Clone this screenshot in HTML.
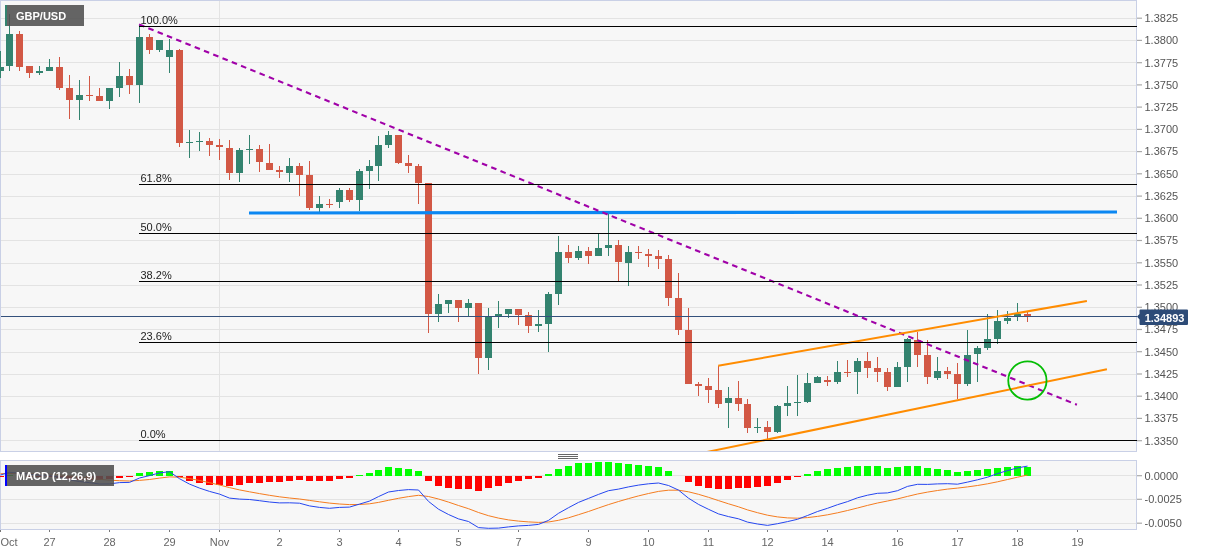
<!DOCTYPE html>
<html><head><meta charset="utf-8"><title>GBP/USD</title>
<style>html,body{margin:0;padding:0;background:#fff;}body{width:1207px;height:555px;overflow:hidden;font-family:"Liberation Sans",sans-serif;}svg{display:block;will-change:transform;opacity:0.999}</style>
</head><body>
<svg width="1207" height="555" viewBox="0 0 1207 555" font-family="'Liberation Sans', sans-serif">
<rect width="1207" height="555" fill="#fff"/>
<rect x="0.5" y="0.5" width="1136" height="451" fill="#f7f7f7" stroke="#c9d0e6"/>
<rect x="0.5" y="460.5" width="1136" height="69" fill="#f7f7f7" stroke="#c9d0e6"/>
<defs><clipPath id="cm"><rect x="0" y="1" width="1137" height="450"/></clipPath><clipPath id="cd"><rect x="0" y="461" width="1136" height="68"/></clipPath></defs>
<g shape-rendering="crispEdges" stroke="#e3e3e3" stroke-width="1">
<line x1="1" x2="1136" y1="18.5" y2="18.5"/>
<line x1="1" x2="1136" y1="40.5" y2="40.5"/>
<line x1="1" x2="1136" y1="62.5" y2="62.5"/>
<line x1="1" x2="1136" y1="85.5" y2="85.5"/>
<line x1="1" x2="1136" y1="107.5" y2="107.5"/>
<line x1="1" x2="1136" y1="129.5" y2="129.5"/>
<line x1="1" x2="1136" y1="151.5" y2="151.5"/>
<line x1="1" x2="1136" y1="174.5" y2="174.5"/>
<line x1="1" x2="1136" y1="196.5" y2="196.5"/>
<line x1="1" x2="1136" y1="218.5" y2="218.5"/>
<line x1="1" x2="1136" y1="240.5" y2="240.5"/>
<line x1="1" x2="1136" y1="263.5" y2="263.5"/>
<line x1="1" x2="1136" y1="285.5" y2="285.5"/>
<line x1="1" x2="1136" y1="307.5" y2="307.5"/>
<line x1="1" x2="1136" y1="329.5" y2="329.5"/>
<line x1="1" x2="1136" y1="352.5" y2="352.5"/>
<line x1="1" x2="1136" y1="374.5" y2="374.5"/>
<line x1="1" x2="1136" y1="396.5" y2="396.5"/>
<line x1="1" x2="1136" y1="418.5" y2="418.5"/>
<line x1="1" x2="1136" y1="440.5" y2="440.5"/>
<line x1="219.5" x2="219.5" y1="1" y2="451"/>
<line x1="1" x2="1136" y1="475.5" y2="475.5"/>
<line x1="1" x2="1136" y1="499.5" y2="499.5"/>
<line x1="1" x2="1136" y1="523.5" y2="523.5"/>
<line x1="219.5" x2="219.5" y1="461" y2="529"/>
</g>
<g stroke="#aaa" stroke-width="1.2">
<line x1="1137" x2="1142" y1="18.2" y2="18.2"/>
<line x1="1137" x2="1142" y1="40.4" y2="40.4"/>
<line x1="1137" x2="1142" y1="62.7" y2="62.7"/>
<line x1="1137" x2="1142" y1="84.9" y2="84.9"/>
<line x1="1137" x2="1142" y1="107.1" y2="107.1"/>
<line x1="1137" x2="1142" y1="129.4" y2="129.4"/>
<line x1="1137" x2="1142" y1="151.6" y2="151.6"/>
<line x1="1137" x2="1142" y1="173.8" y2="173.8"/>
<line x1="1137" x2="1142" y1="196.1" y2="196.1"/>
<line x1="1137" x2="1142" y1="218.3" y2="218.3"/>
<line x1="1137" x2="1142" y1="240.5" y2="240.5"/>
<line x1="1137" x2="1142" y1="262.8" y2="262.8"/>
<line x1="1137" x2="1142" y1="285.0" y2="285.0"/>
<line x1="1137" x2="1142" y1="307.3" y2="307.3"/>
<line x1="1137" x2="1142" y1="329.5" y2="329.5"/>
<line x1="1137" x2="1142" y1="351.7" y2="351.7"/>
<line x1="1137" x2="1142" y1="374.0" y2="374.0"/>
<line x1="1137" x2="1142" y1="396.2" y2="396.2"/>
<line x1="1137" x2="1142" y1="418.4" y2="418.4"/>
<line x1="1137" x2="1142" y1="440.7" y2="440.7"/>
<line x1="1137" x2="1142" y1="475.7" y2="475.7"/>
<line x1="1137" x2="1142" y1="499.3" y2="499.3"/>
<line x1="1137" x2="1142" y1="523.2" y2="523.2"/>
</g>
<g font-size="11" fill="#555">
<text x="1144.5" y="22.0">1.3825</text>
<text x="1144.5" y="44.2">1.3800</text>
<text x="1144.5" y="66.5">1.3775</text>
<text x="1144.5" y="88.7">1.3750</text>
<text x="1144.5" y="110.9">1.3725</text>
<text x="1144.5" y="133.2">1.3700</text>
<text x="1144.5" y="155.4">1.3675</text>
<text x="1144.5" y="177.6">1.3650</text>
<text x="1144.5" y="199.9">1.3625</text>
<text x="1144.5" y="222.1">1.3600</text>
<text x="1144.5" y="244.3">1.3575</text>
<text x="1144.5" y="266.6">1.3550</text>
<text x="1144.5" y="288.8">1.3525</text>
<text x="1144.5" y="311.1">1.3500</text>
<text x="1144.5" y="333.3">1.3475</text>
<text x="1144.5" y="355.5">1.3450</text>
<text x="1144.5" y="377.8">1.3425</text>
<text x="1144.5" y="400.0">1.3400</text>
<text x="1144.5" y="422.2">1.3375</text>
<text x="1144.5" y="444.5">1.3350</text>
<text x="1144.5" y="479.6">0.0000</text>
<text x="1144.5" y="503.2">-0.0025</text>
<text x="1144.5" y="527.1">-0.0050</text>
</g>
<g stroke="#777" stroke-width="1" shape-rendering="crispEdges">
<line x1="0.5" x2="0.5" y1="530" y2="532"/>
<line x1="49.5" x2="49.5" y1="530" y2="532"/>
<line x1="109.5" x2="109.5" y1="530" y2="532"/>
<line x1="169.5" x2="169.5" y1="530" y2="532"/>
<line x1="219.5" x2="219.5" y1="530" y2="532"/>
<line x1="279.5" x2="279.5" y1="530" y2="532"/>
<line x1="339.5" x2="339.5" y1="530" y2="532"/>
<line x1="398.5" x2="398.5" y1="530" y2="532"/>
<line x1="458.5" x2="458.5" y1="530" y2="532"/>
<line x1="518.5" x2="518.5" y1="530" y2="532"/>
<line x1="588.5" x2="588.5" y1="530" y2="532"/>
<line x1="648.5" x2="648.5" y1="530" y2="532"/>
<line x1="708.5" x2="708.5" y1="530" y2="532"/>
<line x1="767.5" x2="767.5" y1="530" y2="532"/>
<line x1="827.5" x2="827.5" y1="530" y2="532"/>
<line x1="897.5" x2="897.5" y1="530" y2="532"/>
<line x1="957.5" x2="957.5" y1="530" y2="532"/>
<line x1="1017.5" x2="1017.5" y1="530" y2="532"/>
<line x1="1077.5" x2="1077.5" y1="530" y2="532"/>
</g>
<g font-size="11" fill="#666" text-anchor="middle">
<text x="0.5" y="546" text-anchor="start">Oct</text>
<text x="49.5" y="546">27</text>
<text x="109.5" y="546">28</text>
<text x="169.5" y="546">29</text>
<text x="219.5" y="546">Nov</text>
<text x="279.5" y="546">2</text>
<text x="339.5" y="546">3</text>
<text x="398.5" y="546">4</text>
<text x="458.5" y="546">5</text>
<text x="518.5" y="546">7</text>
<text x="588.5" y="546">9</text>
<text x="648.5" y="546">10</text>
<text x="708.5" y="546">11</text>
<text x="767.5" y="546">12</text>
<text x="827.5" y="546">14</text>
<text x="897.5" y="546">16</text>
<text x="957.5" y="546">17</text>
<text x="1017.5" y="546">18</text>
<text x="1077.5" y="546">19</text>
</g>
<g stroke="#666" stroke-width="1" shape-rendering="crispEdges"><line x1="558" x2="578" y1="454.5" y2="454.5"/><line x1="558" x2="578" y1="456.5" y2="456.5"/><line x1="558" x2="578" y1="458.5" y2="458.5"/></g>
<g clip-path="url(#cm)">
<g shape-rendering="crispEdges">
<rect x="0" y="51" width="1" height="27" fill="#33836f"/>
<rect x="-3" y="67" width="7" height="4" fill="#33836f"/>
<rect x="9" y="14" width="1" height="57" fill="#33836f"/>
<rect x="6" y="34" width="7" height="32" fill="#33836f"/>
<rect x="19" y="31" width="1" height="40" fill="#d25845"/>
<rect x="16" y="34" width="7" height="33" fill="#d25845"/>
<rect x="29" y="66" width="1" height="12" fill="#d25845"/>
<rect x="26" y="66" width="7" height="7" fill="#d25845"/>
<rect x="39" y="66" width="1" height="9" fill="#33836f"/>
<rect x="36" y="71" width="7" height="2" fill="#33836f"/>
<rect x="49" y="59" width="1" height="12" fill="#33836f"/>
<rect x="46" y="67" width="7" height="4" fill="#33836f"/>
<rect x="59" y="57" width="1" height="33" fill="#d25845"/>
<rect x="56" y="67" width="7" height="21" fill="#d25845"/>
<rect x="69" y="75" width="1" height="44" fill="#d25845"/>
<rect x="66" y="88" width="7" height="12" fill="#d25845"/>
<rect x="79" y="80" width="1" height="40" fill="#33836f"/>
<rect x="76" y="95" width="7" height="5" fill="#33836f"/>
<rect x="89" y="76" width="1" height="25" fill="#d25845"/>
<rect x="86" y="95" width="7" height="1" fill="#d25845"/>
<rect x="99" y="88" width="1" height="13" fill="#d25845"/>
<rect x="96" y="96" width="7" height="5" fill="#d25845"/>
<rect x="109" y="88" width="1" height="21" fill="#33836f"/>
<rect x="106" y="88" width="7" height="13" fill="#33836f"/>
<rect x="119" y="62" width="1" height="35" fill="#33836f"/>
<rect x="116" y="76" width="7" height="12" fill="#33836f"/>
<rect x="129" y="69" width="1" height="25" fill="#d25845"/>
<rect x="126" y="76" width="7" height="9" fill="#d25845"/>
<rect x="139" y="25" width="1" height="78" fill="#33836f"/>
<rect x="136" y="37" width="7" height="48" fill="#33836f"/>
<rect x="149" y="34" width="1" height="20" fill="#d25845"/>
<rect x="146" y="37" width="7" height="13" fill="#d25845"/>
<rect x="159" y="40" width="1" height="12" fill="#33836f"/>
<rect x="156" y="40" width="7" height="10" fill="#33836f"/>
<rect x="169" y="39" width="1" height="34" fill="#33836f"/>
<rect x="166" y="50" width="7" height="7" fill="#33836f"/>
<rect x="179" y="49" width="1" height="98" fill="#d25845"/>
<rect x="176" y="50" width="7" height="93" fill="#d25845"/>
<rect x="189" y="130" width="1" height="28" fill="#33836f"/>
<rect x="186" y="142" width="7" height="1" fill="#33836f"/>
<rect x="199" y="132" width="1" height="19" fill="#33836f"/>
<rect x="196" y="141" width="7" height="1" fill="#33836f"/>
<rect x="209" y="138" width="1" height="18" fill="#d25845"/>
<rect x="206" y="141" width="7" height="4" fill="#d25845"/>
<rect x="219" y="139" width="1" height="21" fill="#d25845"/>
<rect x="216" y="145" width="7" height="2" fill="#d25845"/>
<rect x="229" y="140" width="1" height="40" fill="#d25845"/>
<rect x="226" y="148" width="7" height="25" fill="#d25845"/>
<rect x="239" y="148" width="1" height="34" fill="#33836f"/>
<rect x="236" y="150" width="7" height="23" fill="#33836f"/>
<rect x="249" y="135" width="1" height="29" fill="#33836f"/>
<rect x="246" y="149" width="7" height="1" fill="#33836f"/>
<rect x="259" y="145" width="1" height="27" fill="#d25845"/>
<rect x="256" y="149" width="7" height="13" fill="#d25845"/>
<rect x="269" y="144" width="1" height="26" fill="#d25845"/>
<rect x="266" y="163" width="7" height="7" fill="#d25845"/>
<rect x="279" y="166" width="1" height="12" fill="#d25845"/>
<rect x="276" y="170" width="7" height="2" fill="#d25845"/>
<rect x="289" y="158" width="1" height="24" fill="#33836f"/>
<rect x="286" y="166" width="7" height="7" fill="#33836f"/>
<rect x="299" y="163" width="1" height="33" fill="#d25845"/>
<rect x="296" y="166" width="7" height="9" fill="#d25845"/>
<rect x="309" y="161" width="1" height="49" fill="#d25845"/>
<rect x="306" y="175" width="7" height="33" fill="#d25845"/>
<rect x="319" y="196" width="1" height="16" fill="#33836f"/>
<rect x="316" y="204" width="7" height="4" fill="#33836f"/>
<rect x="329" y="199" width="1" height="9" fill="#d25845"/>
<rect x="326" y="204" width="7" height="1" fill="#d25845"/>
<rect x="339" y="188" width="1" height="20" fill="#33836f"/>
<rect x="336" y="190" width="7" height="12" fill="#33836f"/>
<rect x="349" y="188" width="1" height="14" fill="#d25845"/>
<rect x="346" y="190" width="7" height="10" fill="#d25845"/>
<rect x="359" y="169" width="1" height="42" fill="#33836f"/>
<rect x="356" y="171" width="7" height="29" fill="#33836f"/>
<rect x="369" y="160" width="1" height="29" fill="#33836f"/>
<rect x="366" y="166" width="7" height="5" fill="#33836f"/>
<rect x="378" y="136" width="1" height="45" fill="#33836f"/>
<rect x="375" y="145" width="7" height="21" fill="#33836f"/>
<rect x="388" y="131" width="1" height="17" fill="#33836f"/>
<rect x="385" y="135" width="7" height="10" fill="#33836f"/>
<rect x="398" y="135" width="1" height="29" fill="#d25845"/>
<rect x="395" y="135" width="7" height="28" fill="#d25845"/>
<rect x="408" y="155" width="1" height="18" fill="#d25845"/>
<rect x="405" y="163" width="7" height="3" fill="#d25845"/>
<rect x="418" y="164" width="1" height="40" fill="#d25845"/>
<rect x="415" y="166" width="7" height="17" fill="#d25845"/>
<rect x="428" y="183" width="1" height="150" fill="#d25845"/>
<rect x="425" y="183" width="7" height="131" fill="#d25845"/>
<rect x="438" y="294" width="1" height="28" fill="#33836f"/>
<rect x="435" y="304" width="7" height="10" fill="#33836f"/>
<rect x="448" y="300" width="1" height="13" fill="#33836f"/>
<rect x="445" y="300" width="7" height="4" fill="#33836f"/>
<rect x="458" y="300" width="1" height="22" fill="#d25845"/>
<rect x="455" y="300" width="7" height="8" fill="#d25845"/>
<rect x="468" y="299" width="1" height="17" fill="#33836f"/>
<rect x="465" y="303" width="7" height="5" fill="#33836f"/>
<rect x="478" y="303" width="1" height="71" fill="#d25845"/>
<rect x="475" y="303" width="7" height="55" fill="#d25845"/>
<rect x="488" y="308" width="1" height="62" fill="#33836f"/>
<rect x="485" y="316" width="7" height="42" fill="#33836f"/>
<rect x="498" y="301" width="1" height="27" fill="#33836f"/>
<rect x="495" y="314" width="7" height="2" fill="#33836f"/>
<rect x="508" y="309" width="1" height="9" fill="#33836f"/>
<rect x="505" y="309" width="7" height="5" fill="#33836f"/>
<rect x="518" y="309" width="1" height="16" fill="#d25845"/>
<rect x="515" y="309" width="7" height="6" fill="#d25845"/>
<rect x="528" y="312" width="1" height="21" fill="#d25845"/>
<rect x="525" y="315" width="7" height="11" fill="#d25845"/>
<rect x="538" y="310" width="1" height="22" fill="#33836f"/>
<rect x="535" y="324" width="7" height="2" fill="#33836f"/>
<rect x="548" y="292" width="1" height="60" fill="#33836f"/>
<rect x="545" y="294" width="7" height="30" fill="#33836f"/>
<rect x="558" y="236" width="1" height="69" fill="#33836f"/>
<rect x="555" y="252" width="7" height="42" fill="#33836f"/>
<rect x="568" y="245" width="1" height="18" fill="#d25845"/>
<rect x="565" y="252" width="7" height="6" fill="#d25845"/>
<rect x="578" y="246" width="1" height="14" fill="#33836f"/>
<rect x="575" y="251" width="7" height="7" fill="#33836f"/>
<rect x="588" y="247" width="1" height="17" fill="#d25845"/>
<rect x="585" y="251" width="7" height="5" fill="#d25845"/>
<rect x="598" y="234" width="1" height="22" fill="#33836f"/>
<rect x="595" y="248" width="7" height="8" fill="#33836f"/>
<rect x="608" y="214" width="1" height="42" fill="#33836f"/>
<rect x="605" y="245" width="7" height="3" fill="#33836f"/>
<rect x="618" y="240" width="1" height="41" fill="#d25845"/>
<rect x="615" y="245" width="7" height="17" fill="#d25845"/>
<rect x="628" y="246" width="1" height="40" fill="#33836f"/>
<rect x="625" y="252" width="7" height="11" fill="#33836f"/>
<rect x="638" y="246" width="1" height="13" fill="#d25845"/>
<rect x="635" y="252" width="7" height="1" fill="#d25845"/>
<rect x="648" y="249" width="1" height="18" fill="#d25845"/>
<rect x="645" y="254" width="7" height="2" fill="#d25845"/>
<rect x="658" y="250" width="1" height="19" fill="#d25845"/>
<rect x="655" y="256" width="7" height="3" fill="#d25845"/>
<rect x="668" y="255" width="1" height="51" fill="#d25845"/>
<rect x="665" y="259" width="7" height="39" fill="#d25845"/>
<rect x="678" y="273" width="1" height="62" fill="#d25845"/>
<rect x="675" y="298" width="7" height="32" fill="#d25845"/>
<rect x="688" y="308" width="1" height="76" fill="#d25845"/>
<rect x="685" y="330" width="7" height="54" fill="#d25845"/>
<rect x="698" y="382" width="1" height="14" fill="#d25845"/>
<rect x="695" y="384" width="7" height="2" fill="#d25845"/>
<rect x="708" y="378" width="1" height="25" fill="#d25845"/>
<rect x="705" y="386" width="7" height="4" fill="#d25845"/>
<rect x="718" y="366" width="1" height="42" fill="#d25845"/>
<rect x="715" y="390" width="7" height="14" fill="#d25845"/>
<rect x="728" y="387" width="1" height="41" fill="#33836f"/>
<rect x="725" y="398" width="7" height="5" fill="#33836f"/>
<rect x="738" y="381" width="1" height="30" fill="#d25845"/>
<rect x="735" y="398" width="7" height="6" fill="#d25845"/>
<rect x="747" y="399" width="1" height="34" fill="#d25845"/>
<rect x="744" y="404" width="7" height="24" fill="#d25845"/>
<rect x="757" y="418" width="1" height="15" fill="#33836f"/>
<rect x="754" y="427" width="7" height="1" fill="#33836f"/>
<rect x="767" y="421" width="1" height="18" fill="#d25845"/>
<rect x="764" y="427" width="7" height="5" fill="#d25845"/>
<rect x="777" y="405" width="1" height="28" fill="#33836f"/>
<rect x="774" y="406" width="7" height="26" fill="#33836f"/>
<rect x="787" y="386" width="1" height="30" fill="#33836f"/>
<rect x="784" y="403" width="7" height="3" fill="#33836f"/>
<rect x="797" y="375" width="1" height="41" fill="#33836f"/>
<rect x="794" y="402" width="7" height="1" fill="#33836f"/>
<rect x="807" y="373" width="1" height="30" fill="#33836f"/>
<rect x="804" y="383" width="7" height="19" fill="#33836f"/>
<rect x="817" y="376" width="1" height="7" fill="#33836f"/>
<rect x="814" y="377" width="7" height="6" fill="#33836f"/>
<rect x="827" y="376" width="1" height="10" fill="#d25845"/>
<rect x="824" y="380" width="7" height="2" fill="#d25845"/>
<rect x="837" y="361" width="1" height="23" fill="#33836f"/>
<rect x="834" y="372" width="7" height="10" fill="#33836f"/>
<rect x="847" y="360" width="1" height="17" fill="#d25845"/>
<rect x="844" y="372" width="7" height="1" fill="#d25845"/>
<rect x="857" y="358" width="1" height="36" fill="#33836f"/>
<rect x="854" y="361" width="7" height="11" fill="#33836f"/>
<rect x="867" y="352" width="1" height="26" fill="#d25845"/>
<rect x="864" y="361" width="7" height="7" fill="#d25845"/>
<rect x="877" y="357" width="1" height="25" fill="#d25845"/>
<rect x="874" y="368" width="7" height="4" fill="#d25845"/>
<rect x="887" y="368" width="1" height="23" fill="#d25845"/>
<rect x="884" y="372" width="7" height="15" fill="#d25845"/>
<rect x="897" y="362" width="1" height="25" fill="#33836f"/>
<rect x="894" y="367" width="7" height="20" fill="#33836f"/>
<rect x="907" y="338" width="1" height="44" fill="#33836f"/>
<rect x="904" y="339" width="7" height="28" fill="#33836f"/>
<rect x="917" y="332" width="1" height="35" fill="#d25845"/>
<rect x="914" y="340" width="7" height="15" fill="#d25845"/>
<rect x="927" y="340" width="1" height="44" fill="#d25845"/>
<rect x="924" y="355" width="7" height="22" fill="#d25845"/>
<rect x="937" y="357" width="1" height="23" fill="#33836f"/>
<rect x="934" y="371" width="7" height="7" fill="#33836f"/>
<rect x="947" y="367" width="1" height="12" fill="#d25845"/>
<rect x="944" y="371" width="7" height="3" fill="#d25845"/>
<rect x="957" y="363" width="1" height="36" fill="#d25845"/>
<rect x="954" y="374" width="7" height="10" fill="#d25845"/>
<rect x="967" y="330" width="1" height="56" fill="#33836f"/>
<rect x="964" y="355" width="7" height="29" fill="#33836f"/>
<rect x="977" y="346" width="1" height="36" fill="#33836f"/>
<rect x="974" y="348" width="7" height="6" fill="#33836f"/>
<rect x="987" y="314" width="1" height="36" fill="#33836f"/>
<rect x="984" y="339" width="7" height="9" fill="#33836f"/>
<rect x="997" y="310" width="1" height="34" fill="#33836f"/>
<rect x="994" y="321" width="7" height="18" fill="#33836f"/>
<rect x="1007" y="311" width="1" height="13" fill="#33836f"/>
<rect x="1004" y="318" width="7" height="3" fill="#33836f"/>
<rect x="1017" y="303" width="1" height="18" fill="#33836f"/>
<rect x="1014" y="314" width="7" height="3" fill="#33836f"/>
<rect x="1027" y="312" width="1" height="10" fill="#d25845"/>
<rect x="1024" y="314" width="7" height="2" fill="#d25845"/>
</g>
<line x1="1" x2="1137" y1="316.5" y2="316.5" stroke="#34517c" stroke-width="1" shape-rendering="crispEdges"/>
<line x1="249" x2="1117" y1="213" y2="212" stroke="#0b87f2" stroke-width="3.2"/>
<line x1="139.1" y1="24.4" x2="1076.9" y2="404.8" stroke="#a000a8" stroke-width="2.1" stroke-dasharray="5.6 4.4"/>
<line x1="718.2" y1="365.8" x2="1086.9" y2="300.9" stroke="#ff8c00" stroke-width="2"/>
<line x1="704.5" y1="452.5" x2="1106.9" y2="369.3" stroke="#ff8c00" stroke-width="2"/>
<g stroke="#000" stroke-width="1" shape-rendering="crispEdges">
<line x1="139" x2="1137" y1="26.5" y2="26.5"/>
<line x1="139" x2="1137" y1="184.5" y2="184.5"/>
<line x1="139" x2="1137" y1="233.5" y2="233.5"/>
<line x1="139" x2="1137" y1="281.5" y2="281.5"/>
<line x1="139" x2="1137" y1="342.5" y2="342.5"/>
<line x1="139" x2="1137" y1="440.5" y2="440.5"/>
</g>
<g font-size="11" fill="#222">
<text x="140.5" y="24.0">100.0%</text>
<text x="140.5" y="182.0">61.8%</text>
<text x="140.5" y="231.0">50.0%</text>
<text x="140.5" y="279.0">38.2%</text>
<text x="140.5" y="340.0">23.6%</text>
<text x="140.5" y="438.0">0.0%</text>
</g>
<circle cx="1027.4" cy="380.45" r="19.15" fill="none" stroke="#04bd04" stroke-width="1.8"/>
</g>
<g clip-path="url(#cd)">
<g shape-rendering="crispEdges">
<rect x="-3" y="475.7" width="7" height="1.2" fill="#ff0000"/>
<rect x="6" y="474.6" width="7" height="1.1" fill="#00ff00"/>
<rect x="26" y="475.7" width="7" height="1.0" fill="#ff0000"/>
<rect x="36" y="475.7" width="7" height="1.2" fill="#ff0000"/>
<rect x="46" y="475.7" width="7" height="1.2" fill="#ff0000"/>
<rect x="56" y="475.7" width="7" height="2.5" fill="#ff0000"/>
<rect x="66" y="475.7" width="7" height="4.1" fill="#ff0000"/>
<rect x="76" y="475.7" width="7" height="4.5" fill="#ff0000"/>
<rect x="86" y="475.7" width="7" height="4.6" fill="#ff0000"/>
<rect x="96" y="475.7" width="7" height="4.7" fill="#ff0000"/>
<rect x="106" y="475.7" width="7" height="3.7" fill="#ff0000"/>
<rect x="116" y="475.7" width="7" height="2.0" fill="#ff0000"/>
<rect x="126" y="475.7" width="7" height="1.3" fill="#ff0000"/>
<rect x="136" y="473.3" width="7" height="2.4" fill="#00ff00"/>
<rect x="146" y="471.9" width="7" height="3.8" fill="#00ff00"/>
<rect x="156" y="470.5" width="7" height="5.2" fill="#00ff00"/>
<rect x="166" y="470.5" width="7" height="5.2" fill="#00ff00"/>
<rect x="176" y="475.7" width="7" height="1.5" fill="#ff0000"/>
<rect x="186" y="475.7" width="7" height="5.5" fill="#ff0000"/>
<rect x="196" y="475.7" width="7" height="7.6" fill="#ff0000"/>
<rect x="206" y="475.7" width="7" height="8.8" fill="#ff0000"/>
<rect x="216" y="475.7" width="7" height="9.1" fill="#ff0000"/>
<rect x="226" y="475.7" width="7" height="10.5" fill="#ff0000"/>
<rect x="236" y="475.7" width="7" height="9.2" fill="#ff0000"/>
<rect x="246" y="475.7" width="7" height="7.7" fill="#ff0000"/>
<rect x="256" y="475.7" width="7" height="7.1" fill="#ff0000"/>
<rect x="266" y="475.7" width="7" height="6.7" fill="#ff0000"/>
<rect x="276" y="475.7" width="7" height="6.1" fill="#ff0000"/>
<rect x="286" y="475.7" width="7" height="4.8" fill="#ff0000"/>
<rect x="296" y="475.7" width="7" height="4.1" fill="#ff0000"/>
<rect x="306" y="475.7" width="7" height="5.5" fill="#ff0000"/>
<rect x="316" y="475.7" width="7" height="5.6" fill="#ff0000"/>
<rect x="326" y="475.7" width="7" height="5.2" fill="#ff0000"/>
<rect x="336" y="475.7" width="7" height="3.4" fill="#ff0000"/>
<rect x="346" y="475.7" width="7" height="2.5" fill="#ff0000"/>
<rect x="356" y="474.7" width="7" height="1.0" fill="#00ff00"/>
<rect x="366" y="473.0" width="7" height="2.7" fill="#00ff00"/>
<rect x="375" y="469.9" width="7" height="5.8" fill="#00ff00"/>
<rect x="385" y="467.4" width="7" height="8.3" fill="#00ff00"/>
<rect x="395" y="467.9" width="7" height="7.8" fill="#00ff00"/>
<rect x="405" y="468.7" width="7" height="7.0" fill="#00ff00"/>
<rect x="415" y="470.5" width="7" height="5.2" fill="#00ff00"/>
<rect x="425" y="475.7" width="7" height="4.9" fill="#ff0000"/>
<rect x="435" y="475.7" width="7" height="10.1" fill="#ff0000"/>
<rect x="445" y="475.7" width="7" height="12.4" fill="#ff0000"/>
<rect x="455" y="475.7" width="7" height="13.4" fill="#ff0000"/>
<rect x="465" y="475.7" width="7" height="12.8" fill="#ff0000"/>
<rect x="475" y="475.7" width="7" height="15.2" fill="#ff0000"/>
<rect x="485" y="475.7" width="7" height="12.7" fill="#ff0000"/>
<rect x="495" y="475.7" width="7" height="9.9" fill="#ff0000"/>
<rect x="505" y="475.7" width="7" height="7.0" fill="#ff0000"/>
<rect x="515" y="475.7" width="7" height="4.8" fill="#ff0000"/>
<rect x="525" y="475.7" width="7" height="3.5" fill="#ff0000"/>
<rect x="535" y="475.7" width="7" height="1.9" fill="#ff0000"/>
<rect x="545" y="474.1" width="7" height="1.6" fill="#00ff00"/>
<rect x="555" y="468.7" width="7" height="7.0" fill="#00ff00"/>
<rect x="565" y="465.7" width="7" height="10.0" fill="#00ff00"/>
<rect x="575" y="463.4" width="7" height="12.3" fill="#00ff00"/>
<rect x="585" y="462.7" width="7" height="13.0" fill="#00ff00"/>
<rect x="595" y="462.0" width="7" height="13.7" fill="#00ff00"/>
<rect x="605" y="461.9" width="7" height="13.8" fill="#00ff00"/>
<rect x="615" y="463.4" width="7" height="12.3" fill="#00ff00"/>
<rect x="625" y="464.0" width="7" height="11.7" fill="#00ff00"/>
<rect x="635" y="464.9" width="7" height="10.8" fill="#00ff00"/>
<rect x="645" y="466.0" width="7" height="9.7" fill="#00ff00"/>
<rect x="655" y="467.3" width="7" height="8.4" fill="#00ff00"/>
<rect x="665" y="471.0" width="7" height="4.7" fill="#00ff00"/>
<rect x="685" y="475.7" width="7" height="6.4" fill="#ff0000"/>
<rect x="695" y="475.7" width="7" height="10.1" fill="#ff0000"/>
<rect x="705" y="475.7" width="7" height="12.0" fill="#ff0000"/>
<rect x="715" y="475.7" width="7" height="13.3" fill="#ff0000"/>
<rect x="725" y="475.7" width="7" height="12.8" fill="#ff0000"/>
<rect x="735" y="475.7" width="7" height="12.0" fill="#ff0000"/>
<rect x="744" y="475.7" width="7" height="12.2" fill="#ff0000"/>
<rect x="754" y="475.7" width="7" height="11.3" fill="#ff0000"/>
<rect x="764" y="475.7" width="7" height="10.1" fill="#ff0000"/>
<rect x="774" y="475.7" width="7" height="6.8" fill="#ff0000"/>
<rect x="784" y="475.7" width="7" height="3.8" fill="#ff0000"/>
<rect x="794" y="475.7" width="7" height="1.2" fill="#ff0000"/>
<rect x="804" y="473.6" width="7" height="2.1" fill="#00ff00"/>
<rect x="814" y="470.8" width="7" height="4.9" fill="#00ff00"/>
<rect x="824" y="469.2" width="7" height="6.5" fill="#00ff00"/>
<rect x="834" y="467.6" width="7" height="8.1" fill="#00ff00"/>
<rect x="844" y="466.7" width="7" height="9.0" fill="#00ff00"/>
<rect x="854" y="465.5" width="7" height="10.2" fill="#00ff00"/>
<rect x="864" y="465.5" width="7" height="10.2" fill="#00ff00"/>
<rect x="874" y="466.0" width="7" height="9.7" fill="#00ff00"/>
<rect x="884" y="467.6" width="7" height="8.1" fill="#00ff00"/>
<rect x="894" y="467.4" width="7" height="8.3" fill="#00ff00"/>
<rect x="904" y="465.7" width="7" height="10.0" fill="#00ff00"/>
<rect x="914" y="466.0" width="7" height="9.7" fill="#00ff00"/>
<rect x="924" y="468.1" width="7" height="7.6" fill="#00ff00"/>
<rect x="934" y="469.2" width="7" height="6.5" fill="#00ff00"/>
<rect x="944" y="470.3" width="7" height="5.4" fill="#00ff00"/>
<rect x="954" y="471.8" width="7" height="3.9" fill="#00ff00"/>
<rect x="964" y="470.9" width="7" height="4.8" fill="#00ff00"/>
<rect x="974" y="470.0" width="7" height="5.7" fill="#00ff00"/>
<rect x="984" y="469.1" width="7" height="6.6" fill="#00ff00"/>
<rect x="994" y="467.5" width="7" height="8.2" fill="#00ff00"/>
<rect x="1004" y="466.7" width="7" height="9.0" fill="#00ff00"/>
<rect x="1014" y="466.4" width="7" height="9.3" fill="#00ff00"/>
<rect x="1024" y="466.8" width="7" height="8.9" fill="#00ff00"/>
</g>
<polyline points="0.5,473.7 9.5,473.5 19.5,473.4 29.5,473.6 39.5,473.9 49.5,474.2 59.5,474.8 69.5,475.8 79.5,476.9 89.5,478.1 99.5,479.3 109.5,480.2 119.5,480.7 129.5,481.0 139.5,480.4 149.5,479.5 159.5,478.1 169.5,476.9 179.5,477.2 189.5,478.6 199.5,480.5 209.5,482.7 219.5,485.0 229.5,487.6 239.5,489.9 249.5,491.8 259.5,493.6 269.5,495.3 279.5,496.8 289.5,498.0 299.5,499.0 309.5,500.4 319.5,501.8 329.5,503.1 339.5,504.0 349.5,504.6 359.5,504.5 369.5,503.8 378.5,502.4 388.5,500.3 398.5,498.3 408.5,496.6 418.5,495.3 428.5,496.5 438.5,499.0 448.5,502.1 458.5,505.5 468.5,508.7 478.5,512.5 488.5,515.7 498.5,518.1 508.5,519.9 518.5,521.1 528.5,521.9 538.5,522.4 548.5,522.0 558.5,520.3 568.5,517.8 578.5,514.7 588.5,511.5 598.5,508.0 608.5,504.6 618.5,501.5 628.5,498.6 638.5,495.9 648.5,493.5 658.5,491.4 668.5,490.2 678.5,490.2 688.5,491.8 698.5,494.3 708.5,497.3 718.5,500.6 728.5,503.8 738.5,506.8 747.5,509.9 757.5,512.7 767.5,515.2 777.5,516.9 787.5,517.9 797.5,518.2 807.5,517.6 817.5,516.4 827.5,514.8 837.5,512.8 847.5,510.5 857.5,508.0 867.5,505.4 877.5,503.0 887.5,501.0 897.5,498.9 907.5,496.4 917.5,494.0 927.5,492.1 937.5,490.5 947.5,489.1 957.5,488.1 967.5,486.9 977.5,485.5 987.5,483.8 997.5,481.8 1007.5,479.5 1017.5,477.2 1027.5,475.0" fill="none" stroke="#f57c1f" stroke-width="1"/>
<polyline points="0.5,475.0 9.5,472.3 19.5,473.1 29.5,474.3 39.5,475.1 49.5,475.3 59.5,477.3 69.5,479.9 79.5,481.5 89.5,482.7 99.5,484.0 109.5,483.9 119.5,482.6 129.5,482.4 139.5,478.0 149.5,475.6 159.5,472.9 169.5,471.7 179.5,478.7 189.5,484.1 199.5,488.1 209.5,491.4 219.5,494.1 229.5,498.1 239.5,499.1 249.5,499.5 259.5,500.7 269.5,502.0 279.5,502.9 289.5,502.8 299.5,503.2 309.5,505.9 319.5,507.4 329.5,508.3 339.5,507.4 349.5,507.1 359.5,504.1 369.5,501.1 378.5,496.6 388.5,492.0 398.5,490.5 408.5,489.6 418.5,490.0 428.5,501.4 438.5,509.2 448.5,514.5 458.5,518.9 468.5,521.5 478.5,527.6 488.5,528.3 498.5,528.1 508.5,526.9 518.5,525.9 528.5,525.4 538.5,524.4 548.5,520.4 558.5,513.3 568.5,507.7 578.5,502.4 588.5,498.4 598.5,494.4 608.5,490.7 618.5,489.1 628.5,486.9 638.5,485.1 648.5,483.8 658.5,483.0 668.5,485.5 678.5,490.1 688.5,498.2 698.5,504.4 708.5,509.3 718.5,513.9 728.5,516.6 738.5,518.8 747.5,522.1 757.5,524.0 767.5,525.4 777.5,523.7 787.5,521.6 797.5,519.3 807.5,515.5 817.5,511.5 827.5,508.3 837.5,504.7 847.5,501.6 857.5,497.8 867.5,495.2 877.5,493.3 887.5,492.9 897.5,490.7 907.5,486.4 917.5,484.3 927.5,484.4 937.5,483.9 947.5,483.7 957.5,484.2 967.5,482.1 977.5,479.8 987.5,477.2 997.5,473.6 1007.5,470.6 1017.5,467.9 1027.5,466.1" fill="none" stroke="#2546f0" stroke-width="1"/>
</g>
<rect x="5" y="5" width="79" height="21" fill="#505050" fill-opacity="0.88"/>
<rect x="5" y="5" width="2" height="21" fill="#33836f"/>
<text x="16" y="19.8" font-size="11" font-weight="bold" fill="#fff">GBP/USD</text>
<rect x="5" y="465" width="109" height="21" fill="#505050" fill-opacity="0.88"/>
<rect x="5" y="465" width="2" height="21" fill="#0000ff"/>
<text x="16" y="480" font-size="11" font-weight="bold" fill="#fff">MACD (12,26,9)</text>
<path d="M1137 316.6 L1139.5 314 L1139.5 310.4 Q1139.5 309.4 1140.5 309.4 L1187 309.4 Q1188 309.4 1188 310.4 L1188 324 Q1188 325 1187 325 L1140.5 325 Q1139.5 325 1139.5 324 L1139.5 319.4 Z" fill="#2d4b77"/>
<text x="1144.7" y="322" font-size="11" font-weight="bold" fill="#fff">1.34893</text>
</svg>
</body></html>
